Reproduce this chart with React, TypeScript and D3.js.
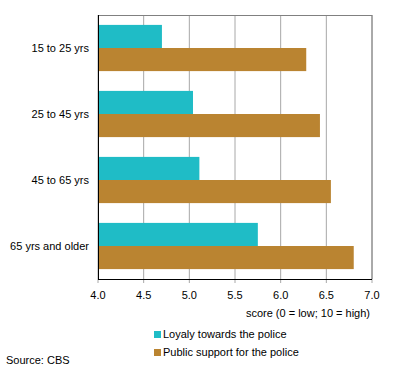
import React from 'react';
import * as d3 from 'd3';

const WIDTH = 396;
const HEIGHT = 370;
const MARGIN = { top: 15, right: 24, bottom: 91, left: 98 };

const groups = ['15 to 25 yrs', '25 to 45 yrs', '45 to 65 yrs', '65 yrs and older'];
const seriesNames = ['Loyaly towards the police', 'Public support for the police'];
const loyalty = [4.7, 5.04, 5.11, 5.75];
const support = [6.28, 6.43, 6.55, 6.8];
const colors = ['#1fbcc6', '#ba8431'];
const ticks = [4.0, 4.5, 5.0, 5.5, 6.0, 6.5, 7.0];

const FONT = 'Liberation Sans, Arial, sans-serif';

const App = () => {
  const innerW = WIDTH - MARGIN.left - MARGIN.right;
  const innerH = HEIGHT - MARGIN.top - MARGIN.bottom;

  const x = d3.scaleLinear().domain([4, 7]).range([0, innerW]);
  const y = d3.scaleBand().domain(groups).range([0, innerH]).paddingInner(0.3).paddingOuter(0.15);
  const sub = d3.scaleBand().domain(['0', '1']).range([0, y.bandwidth()]);

  const series = [loyalty, support];

  return (
    <svg width={WIDTH} height={HEIGHT} style={{ position: 'absolute', left: 0, top: 0, display: 'block' }}
      fontFamily={FONT} fontSize={11}>
      <rect width={WIDTH} height={HEIGHT} fill="#fff" />
      <g transform={`translate(${MARGIN.left},${MARGIN.top})`}>
        {ticks.map((t) => (
          <line key={t} x1={x(t)} x2={x(t)} y1={0} y2={innerH + 4} stroke="#a8a8a8" />
        ))}
        <line x1={0} x2={innerW} y1={0.5} y2={0.5} stroke="#808080" />
        <line x1={innerW} x2={innerW} y1={0} y2={innerH} stroke="#808080" />
        {groups.map((g, i) => (
          <g key={g} transform={`translate(0,${y(g)})`}>
            {series.map((s, j) => (
              <rect key={j} x={0} y={sub(String(j))} width={x(s[i])} height={sub.bandwidth()} fill={colors[j]} />
            ))}
            <text x={-9} y={y.bandwidth() / 2} dy="0.35em" textAnchor="end" fill="#000">{g}</text>
          </g>
        ))}
        <line x1={0.5} x2={0.5} y1={0} y2={innerH} stroke="#000" />
        <line x1={0} x2={innerW} y1={innerH + 0.5} y2={innerH + 0.5} stroke="#000" />
        {ticks.map((t) => (
          <text key={t} x={x(t)} y={innerH + 16} dy="0.35em" textAnchor="middle" fill="#000">{t.toFixed(1)}</text>
        ))}
        <text x={innerW - 2} y={innerH + 34} dy="0.35em" textAnchor="end" fill="#000">score (0 = low; 10 = high)</text>
      </g>
      {seriesNames.map((n, i) => (
        <g key={n} transform={`translate(154,${331 + i * 18})`}>
          <rect width={7} height={7} fill={colors[i]} />
          <text x={9} y={3.5} dy="0.35em" fill="#000">{n}</text>
        </g>
      ))}
      <text x={6} y={360} dy="0.35em" fill="#000">Source: CBS</text>
    </svg>
  );
};

export default App;
